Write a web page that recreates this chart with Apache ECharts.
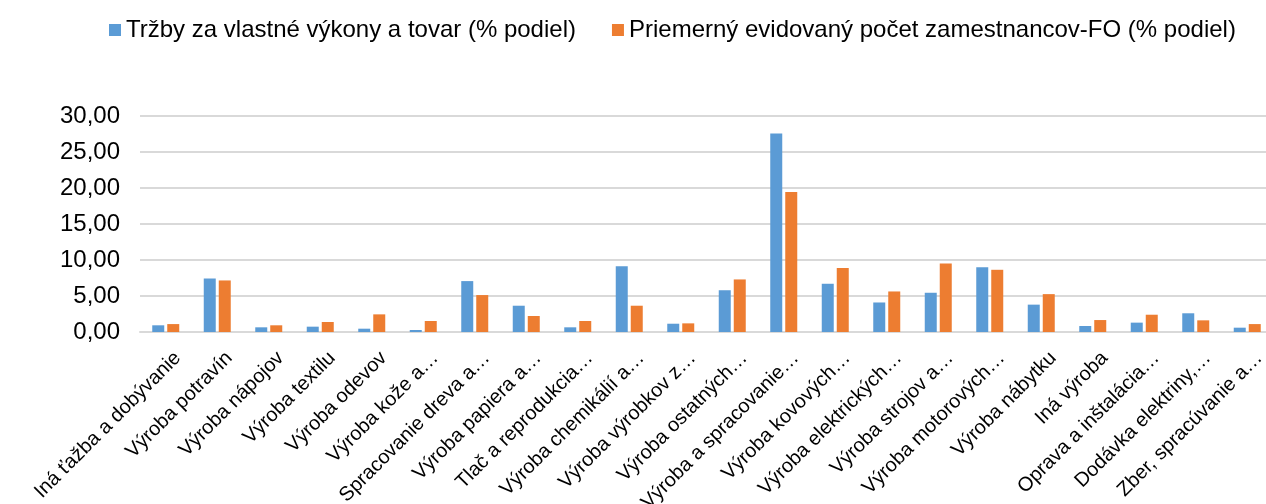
<!DOCTYPE html>
<html><head><meta charset="utf-8">
<script src="https://cdn.jsdelivr.net/npm/echarts@6/dist/echarts.min.js"></script>
<style>html,body{margin:0;padding:0;background:#fff}#c{width:1266px;height:504px}</style>
</head><body><div id="c"></div>
<script>
const categories = ["Iná ťažba a dobývanie","Výroba potravín","Výroba nápojov","Výroba textilu","Výroba odevov","Výroba kože a…","Spracovanie dreva a…","Výroba papiera a…","Tlač a reprodukcia…","Výroba chemikálií a…","Výroba výrobkov z…","Výroba ostatných…","Výroba a spracovanie…","Výroba kovových…","Výroba elektrických…","Výroba strojov a…","Výroba motorových…","Výroba nábytku","Iná výroba","Oprava a inštalácia…","Dodávka elektriny,…","Zber, spracúvanie a…"];
const trzby = [0.93,7.43,0.65,0.74,0.46,0.28,7.07,3.65,0.65,9.14,1.15,5.80,27.56,6.70,4.10,5.45,9.00,3.80,0.83,1.30,2.60,0.60];
const zamestnanci = [1.10,7.16,0.93,1.39,2.45,1.53,5.13,2.22,1.53,3.65,1.20,7.30,19.45,8.90,5.63,9.50,8.64,5.26,1.66,2.40,1.62,1.10];
const seriesNames = ["Tržby za vlastné výkony a tovar (% podiel)","Priemerný evidovaný počet zamestnancov-FO (% podiel)"];
const yTicks = [0,5,10,15,20,25,30];

const chart = echarts.init(document.getElementById('c'));
const font = '"Liberation Sans", Arial, sans-serif';
chart.setOption({
  animation:false,
  textStyle:{fontFamily:font},
  legend:{
    top:13, left:104, itemWidth:12, itemHeight:12, itemGap:36,
    icon:'rect',
    textStyle:{fontSize:24, color:'#000', fontFamily:font},
    data:seriesNames
  },
  grid:{left:140, top:116, width:1133, height:216, containLabel:false, outerBoundsMode:'none'},
  xAxis:{
    type:'category', data:categories,
    axisLine:{lineStyle:{color:'#d9d9d9', width:2}},
    axisTick:{show:false},
    axisLabel:{rotate:45, interval:0, fontSize:20, color:'#000', fontFamily:font,
      margin:11, verticalAlign:'top', padding:[7,0,0,0]}
  },
  yAxis:{
    type:'value', min:yTicks[0], max:yTicks[yTicks.length-1], interval:5,
    axisLine:{show:false}, axisTick:{show:false},
    splitLine:{lineStyle:{color:'#d9d9d9', width:2}},
    axisLabel:{fontSize:24, color:'#000', fontFamily:font, margin:20,
      formatter:v=>v.toFixed(2).replace('.',',')}
  },
  series:[
    {name:seriesNames[0], type:'bar', data:trzby, barWidth:12, barGap:'25%',
     itemStyle:{color:'#5b9bd5'}},
    {name:seriesNames[1], type:'bar', data:zamestnanci, barWidth:12, barGap:'25%',
     itemStyle:{color:'#ed7d31'}}
  ]
});
</script></body></html>
